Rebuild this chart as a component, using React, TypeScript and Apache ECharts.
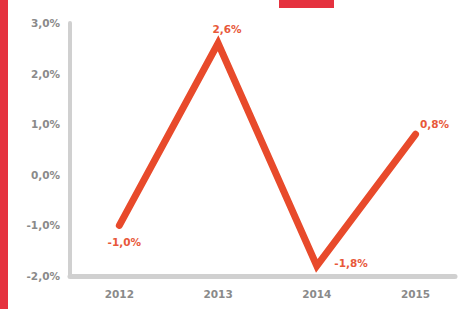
import React, { useEffect, useRef } from "react";
import * as echarts from "echarts";

const years = [2012, 2013, 2014, 2015];
const values = [-1.0, 2.6, -1.8, 0.8];
const yTicks = [-2, -1, 0, 1, 2, 3];

const fmt = (v: number) => v.toFixed(1).replace(".", ",") + "%";
const FONT = "DejaVu Sans";

export default function App() {
  const ref = useRef<HTMLDivElement>(null);
  useEffect(() => {
    const chart = echarts.init(ref.current!, null, { renderer: "svg" });
    const labelCfg = [
      { position: "bottom", offset: [5, 6] },
      { position: "top", offset: [9, -3] },
      { position: "right", offset: [12, -3] },
      { position: "top", offset: [19, 1] },
    ];
    chart.setOption({
      animation: false,
      backgroundColor: "#ffffff",
      grid: { left: 70, right: 7, top: 23, bottom: 33 },
      xAxis: {
        type: "value",
        min: 2011.5,
        max: 2015.4,
        splitLine: { show: false },
        axisLine: { show: true, onZero: false, lineStyle: { color: "#d0d0d0", width: 5 } },
        axisTick: { show: false },
        axisLabel: {
          customValues: years,
          formatter: (v: number) => String(v),
          color: "#8a8a8a",
          fontWeight: "bold",
          fontSize: 10.5,
          fontFamily: FONT,
          margin: 12,
        },
      },
      yAxis: {
        type: "value",
        min: yTicks[0],
        max: yTicks[yTicks.length - 1],
        interval: 1,
        splitLine: { show: false },
        axisLine: { show: true, onZero: false, lineStyle: { color: "#d0d0d0", width: 4 } },
        axisTick: { show: false },
        axisLabel: {
          formatter: (v: number) => fmt(v),
          color: "#8a8a8a",
          fontWeight: "bold",
          fontSize: 10.5,
          fontFamily: FONT,
          margin: 10,
        },
      },
      series: [
        {
          type: "line",
          data: years.map((y, i) => ({
            value: [y, values[i]],
            label: labelCfg[i],
          })),
          showSymbol: true,
          symbol: "circle",
          symbolSize: 1,
          itemStyle: { color: "rgba(0,0,0,0)" },
          lineStyle: { color: "#e84a2b", width: 7, cap: "round", join: "miter" },
          label: {
            show: true,
            formatter: (p: any) => fmt(p.value[1]),
            color: "#e8583a",
            fontWeight: "bold",
            fontSize: 10.5,
            fontFamily: FONT,
          },
        },
      ],
      graphic: [
        { type: "rect", left: 0, top: 0, shape: { width: 8, height: 309 }, style: { fill: "#e5323f" } },
        { type: "rect", left: 279, top: 0, shape: { width: 55, height: 8 }, style: { fill: "#e5323f" } },
      ],
    });
    return () => chart.dispose();
  }, []);
  return <div ref={ref} style={{ width: 462, height: 309, position: "fixed", left: 0, top: 0 }} />;
}
